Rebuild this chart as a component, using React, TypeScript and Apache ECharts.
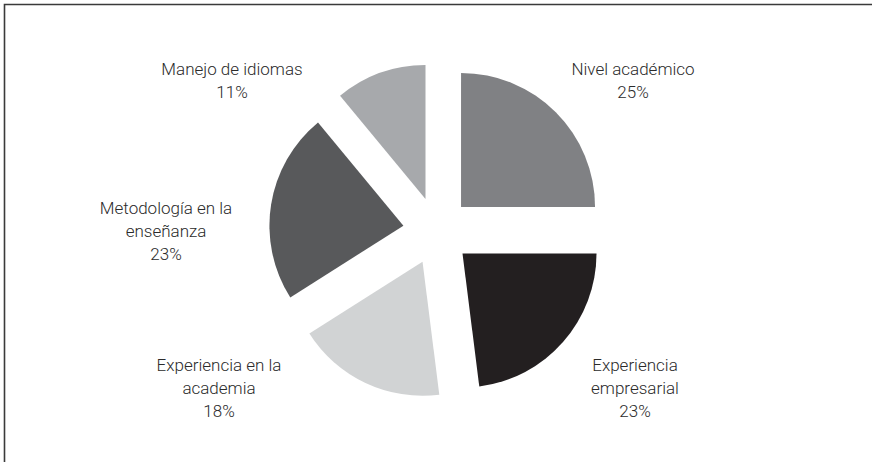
import React, { useEffect, useRef } from "react";
import * as echarts from "echarts";

const categories = [
  "Nivel académico",
  "Experiencia\nempresarial",
  "Experiencia en la\nacademia",
  "Metodología en la\nenseñanza",
  "Manejo de idiomas",
];
const values = [25, 23, 18, 23, 11];
const colors = ["#808184", "#231f20", "#d1d3d4", "#58595b", "#a7a9ac"];
// label centre positions (px)
const labelX = [633, 635, 219, 166, 232];
const labelY = [80, 388, 388, 231, 80];

export default function App() {
  const ref = useRef<HTMLDivElement>(null);
  useEffect(() => {
    if (!ref.current) return;
    const chart = echarts.init(ref.current, null, { renderer: "svg" });
    const labels = categories.map((name, i) => ({
      type: "text",
      x: labelX[i],
      y: labelY[i],
      silent: true,
      style: {
        text: `${name}\n${values[i]}%`,
        textAlign: "center",
        textVerticalAlign: "middle",
        fontFamily: "Roboto",
        fontWeight: 300,
        fontSize: 17,
        lineHeight: 23,
        fill: "#2b2b2b",
      },
    }));
    chart.setOption({
      animation: false,
      backgroundColor: "#ffffff",
      graphic: [
        {
          type: "rect",
          shape: { x: 4.5, y: 4.5, width: 900, height: 500 },
          style: { fill: "none", stroke: "#3a3a3a", lineWidth: 1.6 },
          silent: true,
        },
        ...labels,
      ],
      series: [
        {
          type: "pie",
          center: [437, 231],
          radius: [0, 134],
          startAngle: 90,
          clockwise: true,
          selectedMode: "multiple",
          selectedOffset: 34,
          emphasis: { disabled: true },
          labelLine: { show: false },
          label: { show: false },
          data: categories.map((name, i) => ({
            name,
            value: values[i],
            selected: true,
            itemStyle: { color: colors[i] },
          })),
        },
      ],
    });
    return () => chart.dispose();
  }, []);
  return (
    <div
      ref={ref}
      style={{ position: "fixed", left: 0, top: 0, width: 872, height: 462 }}
    />
  );
}
